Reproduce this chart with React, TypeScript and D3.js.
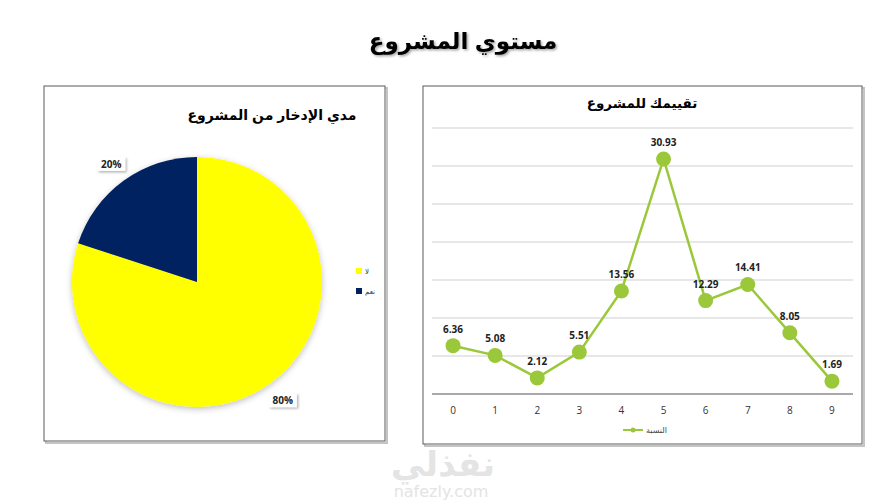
import { useMemo } from "react";
import * as d3 from "d3";

// pie: مدي الإدخار من المشروع
const pieLabels = ["لا", "نعم"];
const pieValues = [80, 20];
const pieColors = ["#FFFF00", "#002060"];

// line: تقييمك للمشروع
const lineCats = ["0", "1", "2", "3", "4", "5", "6", "7", "8", "9"];
const lineValues = [6.36, 5.08, 2.12, 5.51, 13.56, 30.93, 12.29, 14.41, 8.05, 1.69];
const yTicks = [0, 5, 10, 15, 20, 25, 30, 35];

const AR = "'Liberation Sans', 'DejaVu Sans', sans-serif";
const NUM = "'Open Sans', 'Liberation Sans', sans-serif";
const GREEN = "#9BC83A";

function Frame({ x, y, w, h }: { x: number; y: number; w: number; h: number }) {
  return (
    <g>
      <rect x={x + 2} y={y + 2} width={w} height={h} fill="none" stroke="#c4c4c4" strokeWidth={2} />
      <rect x={x} y={y} width={w} height={h} fill="#fff" stroke="#5a5a5a" strokeWidth={1} />
    </g>
  );
}

export default function App() {
  const cx = 197, cy = 282, r = 125;
  const arcs = useMemo(() => d3.pie<number>().sort(null)(pieValues), []);
  const arc = d3.arc<d3.PieArcDatum<number>>().innerRadius(0).outerRadius(r);
  const labelArc = d3.arc<d3.PieArcDatum<number>>().innerRadius(146).outerRadius(146);
  const total = d3.sum(pieValues);

  const x = d3.scalePoint<string>().domain(lineCats).range([432, 853]).padding(0.5);
  const y = d3.scaleLinear().domain([0, 35]).range([394, 128]);
  const line = d3.line<number>().x((_, i) => x(lineCats[i])!).y((d) => y(d));

  return (
    <svg width={889} height={501} style={{ position: "absolute", left: 0, top: 0, background: "#fff" }}>
      <defs>
        <filter id="tshadow" x="-10%" y="-20%" width="130%" height="160%">
          <feDropShadow dx="1.5" dy="1.5" stdDeviation="1" floodColor="#000" floodOpacity="0.35" />
        </filter>
        <filter id="pshadow" x="-20%" y="-20%" width="140%" height="140%">
          <feDropShadow dx="0" dy="2" stdDeviation="3" floodColor="#000" floodOpacity="0.25" />
        </filter>
        <filter id="bshadow" x="-20%" y="-30%" width="150%" height="170%">
          <feDropShadow dx="1.5" dy="1.5" stdDeviation="1" floodColor="#000" floodOpacity="0.3" />
        </filter>
      </defs>

      <text x={463} y={49} textAnchor="middle" fontFamily={AR} fontWeight="bold" fontSize={23} fill="#000" filter="url(#tshadow)">
        مستوي المشروع
      </text>

      {/* pie chart */}
      <Frame x={44} y={86} w={341} h={355} />
      <text x={272} y={120} textAnchor="middle" fontFamily={AR} fontWeight="bold" fontSize={14} fill="#000">
        مدي الإدخار من المشروع
      </text>
      <g transform={`translate(${cx},${cy})`} filter="url(#pshadow)">
        {arcs.map((a, i) => (
          <path key={i} d={arc(a)!} fill={pieColors[i]} />
        ))}
      </g>
      {arcs.map((a, i) => {
        const [lx, ly] = labelArc.centroid(a);
        return (
          <g key={i} transform={`translate(${cx + lx},${cy + ly})`}>
            <rect x={-14} y={-7} width={28} height={14} fill="#fff" filter="url(#bshadow)" />
            <text textAnchor="middle" dy={4} fontFamily={NUM} fontWeight="bold" fontSize={10} fill="#222">
              {Math.round((pieValues[i] / total) * 100)}%
            </text>
          </g>
        );
      })}
      {pieLabels.map((l, i) => (
        <g key={l} transform={`translate(356,${268 + i * 20})`}>
          <rect x={0} y={0} width={6} height={6} fill={pieColors[i]} />
          <text x={9} y={6} fontFamily={AR} fontSize={7} fill="#333">{l}</text>
        </g>
      ))}

      {/* line chart */}
      <Frame x={423} y={86} w={439} h={358} />
      <text x={642} y={108} textAnchor="middle" fontFamily={AR} fontWeight="bold" fontSize={13.5} fill="#000">
        تقييمك  للمشروع
      </text>
      {yTicks.map((t) => (
        <line key={t} x1={432} x2={853} y1={y(t)} y2={y(t)} stroke={t === 0 ? "#555" : "#cfcfcf"} strokeWidth={1} />
      ))}
      <path d={line(lineValues)!} fill="none" stroke={GREEN} strokeWidth={2.5} />
      {lineValues.map((v, i) => (
        <circle key={i} cx={x(lineCats[i])!} cy={y(v)} r={7.5} fill={GREEN} />
      ))}
      {lineValues.map((v, i) => (
        <text key={i} x={x(lineCats[i])!} y={y(v) - 13} textAnchor="middle" fontFamily={NUM} fontWeight="bold" fontSize={10} fill="#222">
          {v.toFixed(2)}
        </text>
      ))}
      {lineCats.map((c) => (
        <text key={c} x={x(c)!} y={414} textAnchor="middle" fontFamily={NUM} fontSize={10} fill="#333">
          {c}
        </text>
      ))}
      <g transform="translate(623,430)">
        <line x1={0} x2={20} y1={0} y2={0} stroke={GREEN} strokeWidth={2} />
        <circle cx={10} cy={0} r={2.5} fill={GREEN} />
        <text x={23} y={3} fontFamily={AR} fontSize={8} fill="#444">النسبة</text>
      </g>

      {/* watermark */}
      <text x={443} y={476} textAnchor="middle" fontFamily={AR} fontWeight="bold" fontSize={34} fill="#e4e4e4">
        نفذلي
      </text>
      <text x={441} y={497} textAnchor="middle" fontFamily="'DejaVu Sans', sans-serif" fontSize={16} fill="#e4e4e4">
        nafezly.com
      </text>
    </svg>
  );
}
